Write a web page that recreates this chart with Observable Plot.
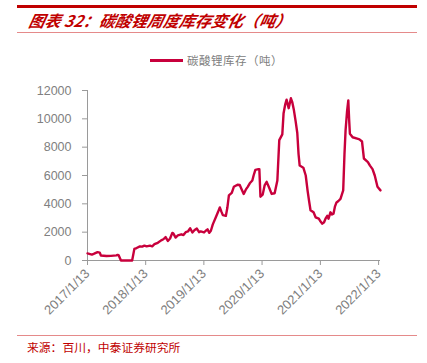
<!DOCTYPE html>
<html>
<head>
<meta charset="utf-8">
<script src="https://cdn.jsdelivr.net/npm/d3@7"></script>
<script src="https://cdn.jsdelivr.net/npm/@observablehq/plot@0.6"></script>
<style>
  html, body { margin: 0; padding: 0; background: #fff; }
  #wrap { position: relative; width: 427px; height: 363px; overflow: hidden; background: #fff; font-family: "Liberation Sans", Arial, sans-serif; }
  .topbar { position: absolute; left: 17px; top: 5px; width: 400px; height: 3px; background: #c00000; }
  .title { position: absolute; left: 27px; top: 10px; font-family: "Noto Sans CJK SC", sans-serif; font-size: 16px; font-weight: bold; font-style: italic; color: #c00000; white-space: nowrap; transform: skewX(-12deg); transform-origin: left bottom; line-height: 20px; }
  .thin1 { position: absolute; left: 17px; top: 32px; width: 400px; height: 1px; background: #e58a8a; }
  .legend { position: absolute; left: 150px; top: 52px; height: 16px; display: flex; align-items: center; white-space: nowrap; }
  .legend .sw { width: 33px; height: 3px; background: #c8003c; margin-right: 4px; }
  .legend .lt { font-family: "Noto Sans CJK SC", sans-serif; font-size: 11.5px; color: #808080; letter-spacing: 0.5px; }
  .thin2 { position: absolute; left: 17px; top: 335px; width: 400px; height: 1px; background: #e58a8a; }
  .source { position: absolute; left: 27px; top: 339px; font-family: "Noto Sans CJK SC", sans-serif; font-size: 11.8px; color: #c00000; white-space: nowrap; line-height: 16px; }
  #chart { position: absolute; left: 0; top: 80px; }
</style>
</head>
<body>
<div id="wrap">
  <div class="topbar"></div>
  <div class="title">图表 32：碳酸锂周度库存变化（吨）</div>
  <div class="thin1"></div>
  <div class="legend"><div class="sw"></div><div class="lt">碳酸锂库存（吨）</div></div>
  <div id="chart"></div>
  <div class="thin2"></div>
  <div class="source">来源：百川，中泰证券研究所</div>
</div>
<script>
const dates = [
  "2017-01-13","2017-02-10","2017-02-24","2017-03-17","2017-03-31","2017-04-07","2017-05-12","2017-06-09",
  "2017-07-14","2017-07-21","2017-07-28","2017-08-11","2017-10-20","2017-11-03","2017-11-17","2017-12-08",
  "2017-12-22","2018-01-05","2018-01-19","2018-02-09","2018-02-23","2018-03-09","2018-03-30","2018-04-20",
  "2018-05-04","2018-05-18","2018-06-01","2018-06-15","2018-06-29","2018-07-06","2018-07-20","2018-08-03",
  "2018-08-24","2018-09-07","2018-09-21","2018-10-05","2018-10-19","2018-11-02","2018-11-16","2018-11-30",
  "2018-12-14","2018-12-24","2019-01-14","2019-01-25","2019-02-05","2019-02-15","2019-02-26","2019-03-10",
  "2019-03-29","2019-04-11","2019-04-23","2019-05-03","2019-05-12","2019-05-31","2019-06-09","2019-06-19",
  "2019-07-07","2019-07-20","2019-08-12","2019-08-26","2019-09-08","2019-09-20","2019-10-03","2019-10-15",
  "2019-10-28","2019-11-13","2019-11-21","2019-12-02","2019-12-21","2019-12-27","2020-01-03","2020-01-17",
  "2020-01-29","2020-02-11","2020-02-28","2020-03-13","2020-04-01","2020-04-18","2020-04-30","2020-05-19",
  "2020-05-27","2020-06-06","2020-06-15","2020-06-28","2020-07-12","2020-07-20","2020-07-31","2020-08-11",
  "2020-08-21","2020-08-29","2020-09-05","2020-09-28","2020-10-13","2020-10-25","2020-11-03","2020-11-12",
  "2020-12-01","2020-12-14","2021-01-03","2021-01-14","2021-01-25","2021-02-05","2021-02-14","2021-02-25",
  "2021-03-05","2021-03-17","2021-03-27","2021-04-05","2021-04-14","2021-04-24","2021-05-06","2021-05-19",
  "2021-06-05","2021-06-13","2021-06-20","2021-06-29","2021-07-07","2021-07-12","2021-07-17","2021-08-03",
  "2021-09-01","2021-09-15","2021-10-01","2021-10-13","2021-11-07","2021-11-20","2021-12-06","2021-12-20",
  "2022-01-06","2022-01-25"
];
const inventory = [
  500,420,480,590,560,350,320,330,
  360,400,360,0,0,820,880,1000,
  980,1050,1000,1050,1000,1150,1250,1420,
  1500,1650,1380,1550,1950,1900,1620,1780,
  1850,1800,2000,2050,2280,1980,2150,2250,
  2000,2050,1980,2100,2200,1950,2100,2550,
  3050,3400,3750,3450,3200,3150,3700,4600,
  4780,5200,5350,5330,5000,4700,5000,5200,
  5450,5650,6000,6400,6450,6450,4500,4650,
  5300,5550,5100,4700,4750,5650,8500,8900,
  10400,11000,11350,10750,11450,11200,10600,9800,
  9000,7500,6700,6550,6000,4900,4200,3550,
  3400,3050,2950,2750,2600,2700,2950,3150,
  2950,3400,3250,3300,3800,4100,4200,4350,
  4950,7500,9200,10500,11300,10000,8950,8700,
  8600,8550,8400,7200,6950,6700,6450,6000,
  5200,4950
];
const xTickDates = ["2017-01-13","2018-01-13","2019-01-13","2020-01-13","2021-01-13","2022-01-13"];
const xTickLabels = ["2017/1/13","2018/1/13","2019/1/13","2020/1/13","2021/1/13","2022/1/13"];
const yTicks = [0, 2000, 4000, 6000, 8000, 10000, 12000];
const yTickLabels = ["0","2000","4000","6000","8000","10000","12000"];
const xDomain = ["2017-01-13", "2022-01-25"];

const data = dates.map((d, i) => ({date: new Date(d), value: inventory[i]}));
const tickDates = xTickDates.map(d => new Date(d));
const labelOf = new Map(tickDates.map((d, i) => [+d, xTickLabels[i]]));
const yLabelOf = new Map(yTicks.map((v, i) => [v, yTickLabels[i]]));

const chart = Plot.plot({
  width: 427,
  height: 250,
  marginLeft: 87,
  marginRight: 47,
  marginTop: 10,
  marginBottom: 70,
  style: {fontFamily: "'Liberation Sans', Arial, sans-serif", fontSize: "12.5px", color: "#808080", background: "#fff"},
  x: {type: "utc", domain: xDomain.map(d => new Date(d))},
  y: {domain: [0, 12000]},
  marks: [
    Plot.ruleY([0], {stroke: "#9a9a9a", strokeWidth: 1}),
    Plot.ruleX([new Date(xDomain[0])], {y1: 0, y2: 12000, stroke: "#9a9a9a", strokeWidth: 1}),
    Plot.axisY({ticks: yTicks, tickFormat: v => yLabelOf.get(v), tickSize: 5, tickPadding: 11, stroke: "#9a9a9a", fill: "#808080", label: null}),
    Plot.axisX({ticks: tickDates, tickFormat: d => labelOf.get(+d), tickRotate: -45, tickSize: 5, tickPadding: 6, stroke: "#9a9a9a", fill: "#808080", fontSize: 13, label: null}),
    Plot.lineY(data, {x: "date", y: "value", stroke: "#c8003c", strokeWidth: 2.4, curve: "linear"})
  ]
});
document.getElementById("chart").appendChild(chart);
</script>
</body>
</html>
